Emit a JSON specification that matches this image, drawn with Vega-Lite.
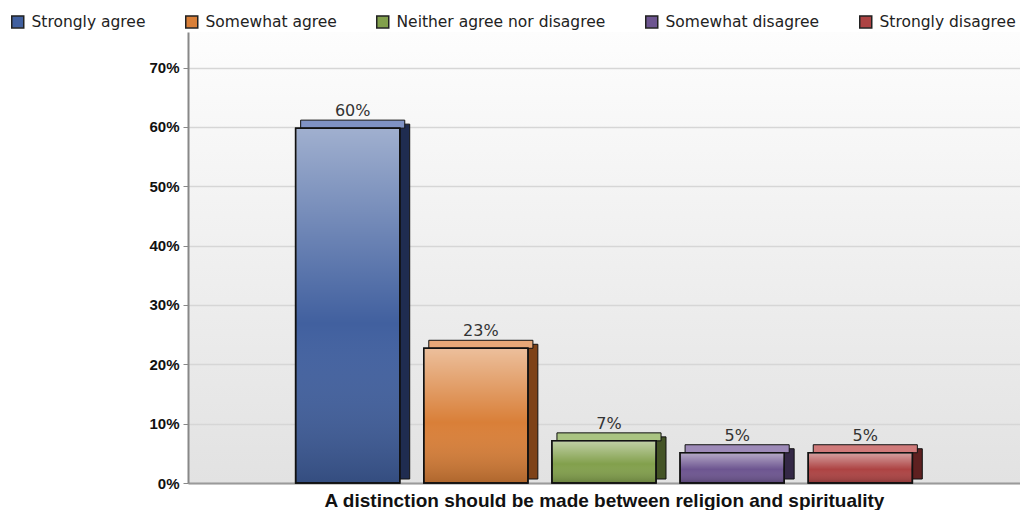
{
  "$schema": "https://vega.github.io/schema/vega-lite/v6.json",
  "width": 832,
  "height": 451,
  "padding": {"left": 10, "top": 14, "right": 0, "bottom": 0},
  "background": "white",
  "config": {
    "view": {
      "stroke": null,
      "fill": {"gradient": "linear", "x1": 0, "y1": 0, "x2": 0, "y2": 1, "stops": [{"offset": 0, "color": "#fdfdfd"}, {"offset": 1, "color": "#e2e2e2"}]}
    }
  },
  "data": {
    "values": [
      {"question": "A distinction should be made between religion and spirituality", "response": "Strongly agree", "value": 59.8, "label": "60%"},
      {"question": "A distinction should be made between religion and spirituality", "response": "Somewhat agree", "value": 22.7, "label": "23%"},
      {"question": "A distinction should be made between religion and spirituality", "response": "Neither agree nor disagree", "value": 7.1, "label": "7%"},
      {"question": "A distinction should be made between religion and spirituality", "response": "Somewhat disagree", "value": 5.1, "label": "5%"},
      {"question": "A distinction should be made between religion and spirituality", "response": "Strongly disagree", "value": 5.1, "label": "5%"}
    ]
  },
  "encoding": {
    "x": {
      "field": "response", "type": "nominal", "sort": null,
      "scale": {"paddingInner": 0.1875, "paddingOuter": 0.84},
      "axis": {"labels": false, "ticks": false, "domainColor": "#9a9a9a", "domainWidth": 2,
        "title": "A distinction should be made between religion and spirituality",
        "titleFont": "Liberation Sans", "titleFontSize": 19, "titleFontWeight": "bold", "titleColor": "#111111", "titlePadding": 8}
    },
    "y": {
      "field": "value", "type": "quantitative",
      "scale": {"domain": [0, 76], "nice": false},
      "axis": {"values": [0, 10, 20, 30, 40, 50, 60, 70], "labelExpr": "datum.value + '%'",
        "labelFont": "Liberation Sans", "labelFontSize": 15, "labelFontWeight": "bold", "labelColor": "#111111",
        "tickColor": "#888888", "tickSize": 5, "labelPadding": 4,
        "domainColor": "#888888", "domainWidth": 2, "gridColor": "#d6d6d6", "gridWidth": 1.5, "title": null}
    }
  },
  "layer": [
    {
      "mark": {"type": "bar", "width": 10, "xOffset": 57, "yOffset": -4, "y2Offset": -4, "stroke": "#111111", "strokeWidth": 1},
      "encoding": {
        "color": {"field": "response", "type": "nominal", "sort": null, "legend": null,
          "scale": {"domain": ["Strongly agree", "Somewhat agree", "Neither agree nor disagree", "Somewhat disagree", "Strongly disagree"],
            "range": ["#1f2c50", "#7e4218", "#445426", "#342846", "#5e2020"]}}
      }
    },
    {
      "mark": {"type": "bar", "xOffset": 5, "yOffset": -8, "stroke": "#111111", "strokeWidth": 1},
      "encoding": {
        "y2": {"field": "value"},
        "color": {"field": "response", "type": "nominal", "sort": null, "legend": null,
          "scale": {"domain": ["Strongly agree", "Somewhat agree", "Neither agree nor disagree", "Somewhat disagree", "Strongly disagree"],
            "range": ["#7f92c4", "#e8a878", "#aac482", "#9d8ab8", "#d07a7a"]}}
      }
    },
    {
      "mark": {"type": "bar", "stroke": "#111111", "strokeWidth": 1.5},
      "encoding": {
        "color": {"field": "response", "type": "nominal", "sort": null,
          "scale": {"domain": ["Strongly agree", "Somewhat agree", "Neither agree nor disagree", "Somewhat disagree", "Strongly disagree"],
            "range": ["#41609f", "#d97f38", "#82a04c", "#6d5590", "#ad4343"]},
          "legend": {"orient": "none", "legendX": -178, "legendY": -18, "direction": "horizontal", "title": null,
            "symbolType": "square", "symbolSize": 144, "symbolStrokeColor": "#222222", "symbolStrokeWidth": 1.5, "symbolOpacity": 1,
            "labelFont": "DejaVu Sans", "labelFontSize": 15.5, "labelColor": "#222222", "labelOffset": 6, "columnPadding": 36, "labelLimit": 400}}
      }
    },
    {
      "mark": {"type": "bar", "stroke": "#111111", "strokeWidth": 1.5,
        "fill": {"gradient": "linear", "x1": 0, "y1": 0, "x2": 0, "y2": 1,
          "stops": [{"offset": 0, "color": "rgba(255,255,255,0.5)"}, {"offset": 0.55, "color": "rgba(255,255,255,0)"}, {"offset": 1, "color": "rgba(0,0,0,0.2)"}]}}
    },
    {
      "mark": {"type": "text", "dy": -17, "xOffset": 5, "font": "DejaVu Sans", "fontSize": 16, "color": "#333333"},
      "encoding": {"text": {"field": "label"}}
    }
  ],
  "resolve": {"scale": {"color": "independent"}, "legend": {"color": "independent"}}
}
